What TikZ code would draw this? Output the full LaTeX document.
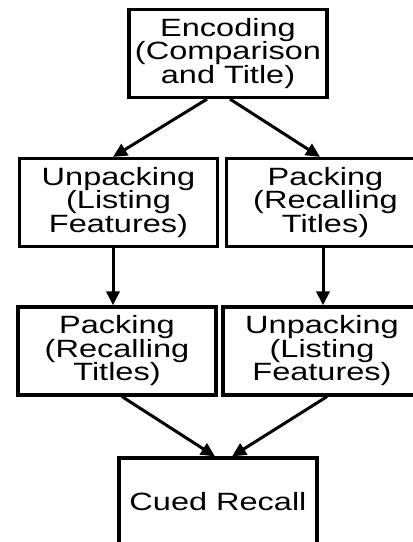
\documentclass[tikz,border=0pt]{standalone}
\usepackage{fontspec}
\setmainfont[FakeStretch=1.3]{Liberation Sans}
\usetikzlibrary{arrows.meta, positioning}
\tikzset{
  stage/.style={rectangle, draw, line width=3.2pt, minimum width=198pt,
                minimum height=88pt, inner sep=0pt, align=center,
                font=\fontsize{25}{23.5}\selectfont},
  arrow/.style={-{Triangle[length=14pt, width=13pt]}, line width=3pt},
}

\begin{document}
\begin{tikzpicture}[x=1pt, y=-1pt]
  \useasboundingbox (0,0) rectangle (413,542);

  \node[stage] (enc)   at (228,53.5)  {Encoding\\(Comparison\\and Title)};
  \node[stage] (unpA)  at (118.5,202.5) {Unpacking\\(Listing\\Features)};
  \node[stage] (packA) at (325.5,202.5) {Packing\\(Recalling\\Titles)};
  \node[stage] (packB) at (117,351)   {Packing\\(Recalling\\Titles)};
  \node[stage] (unpB)  at (322,351)   {Unpacking\\(Listing\\Features)};
  \node[stage] (cued)  at (218,502)   {Cued Recall};

  \draw[arrow] ([xshift=-21pt]enc.south) -- ([xshift=-5.5pt]unpA.north);
  \draw[arrow] ([xshift=2pt]enc.south) -- ([xshift=-5.5pt]packA.north);
  \draw[arrow] ([xshift=-5.5pt]unpA.south) -- ([xshift=-5.5pt]unpA.south |- packB.north);
  \draw[arrow] ([xshift=-2.5pt]packA.south) -- ([xshift=-2.5pt]packA.south |- unpB.north);
  \draw[arrow] ([xshift=5pt]packB.south) -- ([xshift=-3pt]cued.north);
  \draw[arrow] ([xshift=5pt]unpB.south) -- ([xshift=14pt]cued.north);
\end{tikzpicture}
\end{document}
